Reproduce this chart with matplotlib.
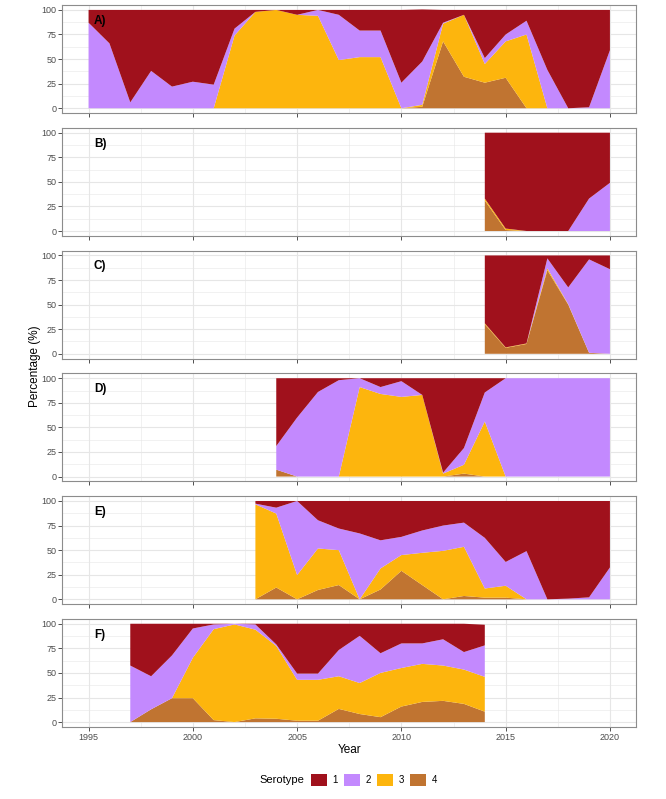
import matplotlib
matplotlib.use("Agg")
import matplotlib.pyplot as plt
import numpy as np
from matplotlib.patches import Patch

plt.rcParams['font.family'] = ['Liberation Sans', 'DejaVu Sans']

# serotype colours 1..4
colors = {'1': '#A0111C', '2': '#C389FE', '3': '#FDB50D', '4': '#C07431'}

# panel A: 1995-2020
years_a = list(range(1995, 2021))
a1 = [13, 34, 94, 62, 78, 73, 76, 19, 2, 0, 5, 0, 5, 21, 21, 74, 53, 13, 5, 49, 25, 11, 61, 100, 99, 41]
a2 = [87, 66, 6, 38, 22, 27, 24, 7, 0, 0, 0, 6, 46, 27, 27, 26, 44, 1, 0, 6, 7, 14, 39, 0, 1, 59]
a3 = [0, 0, 0, 0, 0, 0, 0, 74, 98, 100, 95, 94, 49, 52, 52, 0, 2, 18, 63, 19, 37, 75, 0, 0, 0, 0]
a4 = [0, 0, 0, 0, 0, 0, 0, 0, 0, 0, 0, 0, 0, 0, 0, 0, 1.5, 68, 32, 26, 31, 0, 0, 0, 0, 0]

# panel B: 2014-2020
years_b = list(range(2014, 2021))
b1 = [67, 97.5, 100, 100, 100, 67, 51]
b2 = [0, 0, 0, 0, 0, 33, 49]
b3 = [2, 1.5, 0, 0, 0, 0, 0]
b4 = [31, 1, 0, 0, 0, 0, 0]

# panel C: 2014-2020
years_c = list(range(2014, 2021))
c1 = [69, 93.5, 89.5, 3, 32.5, 4, 14]
c2 = [0, 0, 0, 10, 17, 95, 86]
c3 = [1, 0.5, 0.5, 2, 0.5, 0, 0]
c4 = [30, 6, 10, 85, 50, 1, 0]

# panel D: 2004-2020
years_d = list(range(2004, 2021))
d1 = [69, 40, 14, 2, 0, 9, 3, 17, 96, 71, 14.5, 0, 0, 0, 0, 0, 0]
d2 = [24, 60, 86, 98, 9, 7, 16, 0, 1, 17, 29.5, 100, 100, 100, 100, 100, 100]
d3 = [0, 0, 0, 0, 91, 84, 81, 83, 3, 9, 56, 0, 0, 0, 0, 0, 0]
d4 = [7, 0, 0, 0, 0, 0, 0, 0, 0, 3, 0, 0, 0, 0, 0, 0, 0]

# panel E: 2003-2020
years_e = list(range(2003, 2021))
e1 = [2.7, 6.8, 0, 19.6, 28, 33, 40, 36.5, 30, 25, 22, 37.5, 62, 51, 100, 99.3, 98, 67.6]
e2 = [0.7, 6, 75.3, 28.7, 22, 67, 28.6, 18.5, 22.7, 25.7, 24.6, 51.5, 24.2, 49, 0, 0.7, 2, 32.4]
e3 = [96.6, 75.2, 24.7, 42.2, 35.5, 0, 21.4, 16, 32.8, 49.3, 50, 9.3, 12.1, 0, 0, 0, 0, 0]
e4 = [0, 12, 0, 9.5, 14.5, 0, 10, 29, 14.5, 0, 3.4, 1.7, 1.7, 0, 0, 0, 0, 0]

# panel F: 1997-2014
years_f = list(range(1997, 2015))
f1 = [42.5, 53.4, 32.2, 4.8, 0.7, 0, 0.7, 21, 50.7, 50.7, 26.7, 12.3, 30, 20, 20, 15.8, 28.8, 21]
f2 = [57.5, 33.6, 43.5, 29.8, 4.8, 0.7, 5.3, 1.6, 6.3, 6.3, 26.7, 48, 20, 25, 20.8, 26.7, 17.8, 32]
f3 = [0, 0, 0, 41.1, 92.5, 99.3, 90.2, 74, 41.6, 41.6, 33.2, 31.5, 45, 39.2, 38.7, 35.9, 34.9, 35.4]
f4 = [0, 13, 24.3, 24.3, 2, 0, 3.8, 3.4, 1.4, 1.4, 13.4, 8.2, 5, 15.8, 20.5, 21.6, 18.5, 10.6]

panels = [
    ('A)', years_a, a1, a2, a3, a4),
    ('B)', years_b, b1, b2, b3, b4),
    ('C)', years_c, c1, c2, c3, c4),
    ('D)', years_d, d1, d2, d3, d4),
    ('E)', years_e, e1, e2, e3, e4),
    ('F)', years_f, f1, f2, f3, f4),
]

fig, axes = plt.subplots(6, 1, figsize=(6.66, 7.99), dpi=100, sharex=True)
fig.subplots_adjust(left=62.5/666, right=636/666, top=1-5/799, bottom=1-727/799, hspace=0.135)

grid_col = '#E6E6E6'
for ax, (lab, yrs, s1, s2, s3, s4) in zip(axes, panels):
    ax.set_axisbelow(True)
    # bottom to top: 4, 3, 2, 1
    ax.stackplot(yrs, s4, s3, s2, s1,
                 colors=[colors['4'], colors['3'], colors['2'], colors['1']],
                 linewidth=0)
    ax.set_xlim(1995 - 1.25, 2020 + 1.25)
    ax.set_ylim(-5, 105)
    ax.set_xticks(range(1995, 2021, 5))
    ax.set_xticks(np.arange(1997.5, 2020, 5), minor=True)
    ax.set_yticks([0, 25, 50, 75, 100])
    ax.set_yticks([12.5, 37.5, 62.5, 87.5], minor=True)
    ax.grid(which='major', color=grid_col, lw=0.8)
    ax.grid(which='minor', color=grid_col, lw=0.4)
    ax.tick_params(which='major', length=3, width=0.6, color='#333333',
                   labelsize=6.5, labelcolor='#4D4D4D', pad=1.5)
    ax.tick_params(which='minor', length=0)
    for sp in ax.spines.values():
        sp.set_color('#8C8C8C')
        sp.set_linewidth(0.8)
    ax.text(1995.25, 89, lab, fontsize=8.5, fontweight='bold', ha='left', va='center')

axes[-1].set_xlabel('Year', fontsize=8.5, labelpad=1.5)
fig.text(35/666, (1 - 5/799 + 1 - 727/799) / 2, 'Percentage (%)', rotation=90,
         fontsize=8.5, ha='center', va='center')

handles = [Patch(facecolor=colors[k], edgecolor='none') for k in ['1', '2', '3', '4']]
fig.legend(handles, ['1', '2', '3', '4'], ncol=4, loc='center',
           bbox_to_anchor=(374/666, 1 - 780/799), frameon=False, fontsize=7,
           handlelength=1.65, handleheight=1.55, handletextpad=0.6,
           columnspacing=0.6, borderpad=0, borderaxespad=0)
fig.text(282/666, 1 - 780/799, 'Serotype', fontsize=8, ha='center', va='center')

fig.savefig('out.png', dpi=100)
